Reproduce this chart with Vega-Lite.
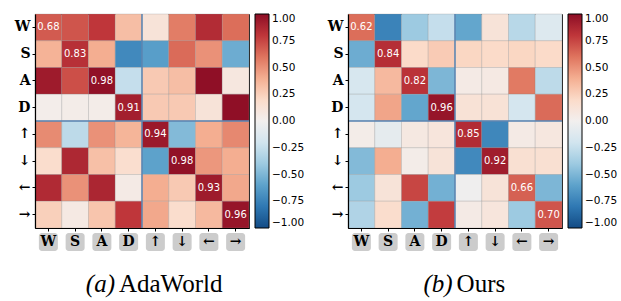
{
  "$schema": "https://vega.github.io/schema/vega-lite/v6.json",
  "padding": {"left": 13, "top": 12, "right": 5, "bottom": 5},
  "datasets": {
    "ada": [
      {"row":"W","col":"W","v":0.68},{"row":"W","col":"S","v":0.70},{"row":"W","col":"A","v":0.80},{"row":"W","col":"D","v":0.33},{"row":"W","col":"↑","v":0.12},{"row":"W","col":"↓","v":0.57},{"row":"W","col":"←","v":0.85},{"row":"W","col":"→","v":0.62},
      {"row":"S","col":"W","v":0.38},{"row":"S","col":"S","v":0.83},{"row":"S","col":"A","v":0.40},{"row":"S","col":"D","v":-0.72},{"row":"S","col":"↑","v":-0.62},{"row":"S","col":"↓","v":0.63},{"row":"S","col":"←","v":0.50},{"row":"S","col":"→","v":-0.55},
      {"row":"A","col":"W","v":0.93},{"row":"A","col":"S","v":0.72},{"row":"A","col":"A","v":0.98},{"row":"A","col":"D","v":-0.25},{"row":"A","col":"↑","v":0.28},{"row":"A","col":"↓","v":0.33},{"row":"A","col":"←","v":0.99},{"row":"A","col":"→","v":0.08},
      {"row":"D","col":"W","v":0.02},{"row":"D","col":"S","v":0.03},{"row":"D","col":"A","v":0.03},{"row":"D","col":"D","v":0.91},{"row":"D","col":"↑","v":0.28},{"row":"D","col":"↓","v":0.28},{"row":"D","col":"←","v":0.12},{"row":"D","col":"→","v":0.99},
      {"row":"↑","col":"W","v":0.52},{"row":"↑","col":"S","v":-0.28},{"row":"↑","col":"A","v":0.50},{"row":"↑","col":"D","v":0.37},{"row":"↑","col":"↑","v":0.94},{"row":"↑","col":"↓","v":-0.48},{"row":"↑","col":"←","v":0.40},{"row":"↑","col":"→","v":0.53},
      {"row":"↓","col":"W","v":0.18},{"row":"↓","col":"S","v":0.87},{"row":"↓","col":"A","v":0.32},{"row":"↓","col":"D","v":0.17},{"row":"↓","col":"↑","v":-0.60},{"row":"↓","col":"↓","v":0.98},{"row":"↓","col":"←","v":0.48},{"row":"↓","col":"→","v":0.40},
      {"row":"←","col":"W","v":0.86},{"row":"←","col":"S","v":0.50},{"row":"←","col":"A","v":0.88},{"row":"←","col":"D","v":0.05},{"row":"←","col":"↑","v":0.40},{"row":"←","col":"↓","v":0.28},{"row":"←","col":"←","v":0.93},{"row":"←","col":"→","v":0.42},
      {"row":"→","col":"W","v":0.25},{"row":"→","col":"S","v":0.06},{"row":"→","col":"A","v":0.30},{"row":"→","col":"D","v":0.80},{"row":"→","col":"↑","v":0.42},{"row":"→","col":"↓","v":0.18},{"row":"→","col":"←","v":0.35},{"row":"→","col":"→","v":0.96}
    ],
    "ours": [
      {"row":"W","col":"W","v":0.62},{"row":"W","col":"S","v":-0.75},{"row":"W","col":"A","v":-0.40},{"row":"W","col":"D","v":-0.25},{"row":"W","col":"↑","v":-0.58},{"row":"W","col":"↓","v":0.12},{"row":"W","col":"←","v":-0.30},{"row":"W","col":"→","v":-0.13},
      {"row":"S","col":"W","v":-0.55},{"row":"S","col":"S","v":0.84},{"row":"S","col":"A","v":0.20},{"row":"S","col":"D","v":0.27},{"row":"S","col":"↑","v":0.22},{"row":"S","col":"↓","v":0.20},{"row":"S","col":"←","v":0.22},{"row":"S","col":"→","v":0.20},
      {"row":"A","col":"W","v":-0.17},{"row":"A","col":"S","v":0.35},{"row":"A","col":"A","v":0.82},{"row":"A","col":"D","v":-0.50},{"row":"A","col":"↑","v":0.05},{"row":"A","col":"↓","v":0.06},{"row":"A","col":"←","v":0.58},{"row":"A","col":"→","v":-0.28},
      {"row":"D","col":"W","v":-0.18},{"row":"D","col":"S","v":0.43},{"row":"D","col":"A","v":-0.58},{"row":"D","col":"D","v":0.96},{"row":"D","col":"↑","v":0.13},{"row":"D","col":"↓","v":0.13},{"row":"D","col":"←","v":-0.18},{"row":"D","col":"→","v":0.63},
      {"row":"↑","col":"W","v":0.03},{"row":"↑","col":"S","v":-0.08},{"row":"↑","col":"A","v":0.07},{"row":"↑","col":"D","v":0.10},{"row":"↑","col":"↑","v":0.85},{"row":"↑","col":"↓","v":-0.73},{"row":"↑","col":"←","v":0.05},{"row":"↑","col":"→","v":0.08},
      {"row":"↓","col":"W","v":-0.48},{"row":"↓","col":"S","v":0.40},{"row":"↓","col":"A","v":0.03},{"row":"↓","col":"D","v":0.12},{"row":"↓","col":"↑","v":-0.72},{"row":"↓","col":"↓","v":0.92},{"row":"↓","col":"←","v":0.15},{"row":"↓","col":"→","v":0.15},
      {"row":"←","col":"W","v":-0.40},{"row":"←","col":"S","v":0.12},{"row":"←","col":"A","v":0.75},{"row":"←","col":"D","v":-0.53},{"row":"←","col":"↑","v":-0.02},{"row":"←","col":"↓","v":0.12},{"row":"←","col":"←","v":0.66},{"row":"←","col":"→","v":-0.50},
      {"row":"→","col":"W","v":-0.33},{"row":"→","col":"S","v":0.18},{"row":"→","col":"A","v":-0.53},{"row":"→","col":"D","v":0.78},{"row":"→","col":"↑","v":0.05},{"row":"→","col":"↓","v":0.10},{"row":"→","col":"←","v":-0.40},{"row":"→","col":"→","v":0.70}
    ],
    "keys": [{"k":"W"},{"k":"S"},{"k":"A"},{"k":"D"},{"k":"↑"},{"k":"↓"},{"k":"←"},{"k":"→"}],
    "one": [{}]
  },
  "hconcat": [
    {
      "spacing": 1,
      "resolve": {"scale": {"color": "independent"}, "legend": {"color": "independent"}},
      "vconcat": [
        {
          "width": 214, "height": 214,
          "data": {"name": "ada"},
          "layer": [
            {
              "mark": {"type": "rect", "stroke": "#888888", "strokeOpacity": 0.25, "strokeWidth": 1},
              "encoding": {
                "x": {"field": "col", "type": "nominal", "sort": ["W","S","A","D","↑","↓","←","→"], "scale": {"paddingInner": 0, "paddingOuter": 0}, "axis": {"labels": false, "title": null, "tickSize": 3, "tickColor": "black", "domainColor": "black", "domainWidth": 1.2}},
                "y": {"field": "row", "type": "nominal", "sort": ["W","S","A","D","↑","↓","←","→"], "scale": {"paddingInner": 0, "paddingOuter": 0}, "axis": {"title": null, "tickSize": 3, "tickColor": "black", "domainColor": "black", "domainWidth": 1.2, "labelFont": "DejaVu Serif", "labelFontWeight": "bold", "labelFontSize": 14, "labelColor": "black", "labelPadding": 2}},
                "color": {"field": "v", "type": "quantitative", "scale": {"scheme": "redblue", "reverse": true, "domain": [-1, 1]}, "legend": {"title": null, "values": [-1, -0.75, -0.5, -0.25, 0, 0.25, 0.5, 0.75, 1], "format": ".2f", "gradientLength": 214, "gradientThickness": 14, "gradientStrokeColor": "black", "gradientStrokeWidth": 1, "labelFont": "DejaVu Sans", "labelFontSize": 10.5, "labelColor": "black", "labelOffset": 3, "labelOverlap": false, "labelBaseline": "middle", "offset": 6}}
              }
            },
            {
              "transform": [{"filter": "datum.row === datum.col"}],
              "mark": {"type": "text", "color": "white", "font": "DejaVu Sans", "fontSize": 10},
              "encoding": {
                "x": {"field": "col", "type": "nominal", "sort": ["W","S","A","D","↑","↓","←","→"]},
                "y": {"field": "row", "type": "nominal", "sort": ["W","S","A","D","↑","↓","←","→"]},
                "text": {"field": "v", "type": "quantitative", "format": ".2f"}
              }
            },
            {
              "data": {"name": "one"},
              "mark": {"type": "rule", "color": "#5a86b4", "strokeWidth": 1.5},
              "encoding": {"x": {"datum": "↑", "type": "nominal", "bandPosition": 0}}
            },
            {
              "data": {"name": "one"},
              "mark": {"type": "rule", "color": "#5a86b4", "strokeWidth": 1.5},
              "encoding": {"y": {"datum": "↑", "type": "nominal", "bandPosition": 0}}
            }
          ]
        },
        {
          "width": 214, "height": 18,
          "data": {"name": "keys"},
          "view": {"stroke": null},
          "layer": [
            {"mark": {"type": "rect", "color": "#cccccc", "cornerRadius": 3},
             "encoding": {"x": {"field": "k", "type": "nominal", "sort": ["W","S","A","D","↑","↓","←","→"], "scale": {"paddingInner": 0.29, "paddingOuter": 0.145}, "axis": null}}},
            {"mark": {"type": "text", "font": "DejaVu Serif", "fontWeight": "bold", "fontSize": 14, "color": "black"},
             "encoding": {"x": {"field": "k", "type": "nominal", "sort": ["W","S","A","D","↑","↓","←","→"]}, "text": {"field": "k"}}}
          ]
        },
        {
          "width": 214, "height": 40,
          "data": {"name": "one"},
          "view": {"stroke": null},
          "layer": [
            {"mark": {"type": "text", "text": "(a)", "font": "Liberation Serif", "fontStyle": "italic", "fontSize": 25, "align": "right", "baseline": "alphabetic", "dx": -2},
             "encoding": {"x": {"datum": 0.383, "type": "quantitative", "scale": {"domain": [0, 1]}, "axis": null}, "y": {"datum": 0, "type": "quantitative", "scale": {"domain": [0, 1]}, "axis": null}}},
            {"mark": {"type": "text", "text": "AdaWorld", "font": "Liberation Serif", "fontSize": 25, "align": "left", "baseline": "alphabetic", "dx": 2},
             "encoding": {"x": {"datum": 0.383, "type": "quantitative"}, "y": {"datum": 0, "type": "quantitative"}}}
          ]
        }
      ]
    },
    {
      "spacing": 1,
      "resolve": {"scale": {"color": "independent"}, "legend": {"color": "independent"}},
      "vconcat": [
        {
          "width": 214, "height": 214,
          "data": {"name": "ours"},
          "layer": [
            {
              "mark": {"type": "rect", "stroke": "#888888", "strokeOpacity": 0.25, "strokeWidth": 1},
              "encoding": {
                "x": {"field": "col", "type": "nominal", "sort": ["W","S","A","D","↑","↓","←","→"], "scale": {"paddingInner": 0, "paddingOuter": 0}, "axis": {"labels": false, "title": null, "tickSize": 3, "tickColor": "black", "domainColor": "black", "domainWidth": 1.2}},
                "y": {"field": "row", "type": "nominal", "sort": ["W","S","A","D","↑","↓","←","→"], "scale": {"paddingInner": 0, "paddingOuter": 0}, "axis": {"title": null, "tickSize": 3, "tickColor": "black", "domainColor": "black", "domainWidth": 1.2, "labelFont": "DejaVu Serif", "labelFontWeight": "bold", "labelFontSize": 14, "labelColor": "black", "labelPadding": 2}},
                "color": {"field": "v", "type": "quantitative", "scale": {"scheme": "redblue", "reverse": true, "domain": [-1, 1]}, "legend": {"title": null, "values": [-1, -0.75, -0.5, -0.25, 0, 0.25, 0.5, 0.75, 1], "format": ".2f", "gradientLength": 214, "gradientThickness": 14, "gradientStrokeColor": "black", "gradientStrokeWidth": 1, "labelFont": "DejaVu Sans", "labelFontSize": 10.5, "labelColor": "black", "labelOffset": 3, "labelOverlap": false, "labelBaseline": "middle", "offset": 6}}
              }
            },
            {
              "transform": [{"filter": "datum.row === datum.col"}],
              "mark": {"type": "text", "color": "white", "font": "DejaVu Sans", "fontSize": 10},
              "encoding": {
                "x": {"field": "col", "type": "nominal", "sort": ["W","S","A","D","↑","↓","←","→"]},
                "y": {"field": "row", "type": "nominal", "sort": ["W","S","A","D","↑","↓","←","→"]},
                "text": {"field": "v", "type": "quantitative", "format": ".2f"}
              }
            },
            {
              "data": {"name": "one"},
              "mark": {"type": "rule", "color": "#5a86b4", "strokeWidth": 1.5},
              "encoding": {"x": {"datum": "↑", "type": "nominal", "bandPosition": 0}}
            },
            {
              "data": {"name": "one"},
              "mark": {"type": "rule", "color": "#5a86b4", "strokeWidth": 1.5},
              "encoding": {"y": {"datum": "↑", "type": "nominal", "bandPosition": 0}}
            }
          ]
        },
        {
          "width": 214, "height": 18,
          "data": {"name": "keys"},
          "view": {"stroke": null},
          "layer": [
            {"mark": {"type": "rect", "color": "#cccccc", "cornerRadius": 3},
             "encoding": {"x": {"field": "k", "type": "nominal", "sort": ["W","S","A","D","↑","↓","←","→"], "scale": {"paddingInner": 0.29, "paddingOuter": 0.145}, "axis": null}}},
            {"mark": {"type": "text", "font": "DejaVu Serif", "fontWeight": "bold", "fontSize": 14, "color": "black"},
             "encoding": {"x": {"field": "k", "type": "nominal", "sort": ["W","S","A","D","↑","↓","←","→"]}, "text": {"field": "k"}}}
          ]
        },
        {
          "width": 214, "height": 40,
          "data": {"name": "one"},
          "view": {"stroke": null},
          "layer": [
            {"mark": {"type": "text", "text": "(b)", "font": "Liberation Serif", "fontStyle": "italic", "fontSize": 25, "align": "right", "baseline": "alphabetic", "dx": -2},
             "encoding": {"x": {"datum": 0.498, "type": "quantitative", "scale": {"domain": [0, 1]}, "axis": null}, "y": {"datum": 0, "type": "quantitative", "scale": {"domain": [0, 1]}, "axis": null}}},
            {"mark": {"type": "text", "text": "Ours", "font": "Liberation Serif", "fontSize": 25, "align": "left", "baseline": "alphabetic", "dx": 2},
             "encoding": {"x": {"datum": 0.498, "type": "quantitative"}, "y": {"datum": 0, "type": "quantitative"}}}
          ]
        }
      ]
    }
  ],
  "spacing": 20,
  "resolve": {"scale": {"color": "independent"}, "legend": {"color": "independent"}},
  "config": {
    "view": {"stroke": "#222222", "strokeWidth": 1},
    "background": "white"
  }
}
